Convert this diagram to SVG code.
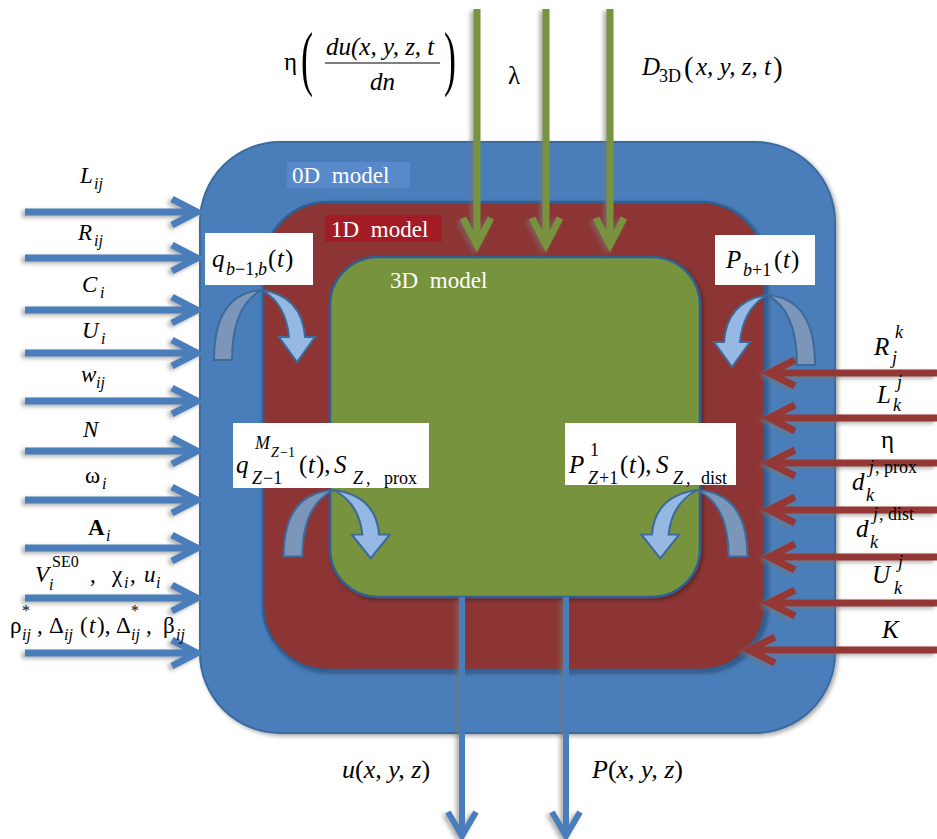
<svg xmlns="http://www.w3.org/2000/svg" xmlns:xlink="http://www.w3.org/1999/xlink" width="937" height="839" viewBox="0 0 937 839" font-family="'Liberation Serif', 'DejaVu Serif', serif">
<style>
text{font-family:'Liberation Serif','DejaVu Serif',serif}
.t{font-size:23px;fill:#000}
.t25{font-size:25px;fill:#000}
.t26{font-size:26px;fill:#000}
.i{font-style:italic}
.s{font-size:16px}
.s18{font-size:18px}
.ss{font-size:14px}
.big{font-size:72px}
.pr{font-size:29px}
.lab{font-size:23px;fill:#fff;word-spacing:6px}
.ba{fill:none;stroke:#4a7ebb;stroke-width:7}
.ra{fill:none;stroke:#953735;stroke-width:7}
.ga{fill:none;stroke:#77933c;stroke-width:7}
.box{fill:#fff}
.dk{fill:#7b96b9;stroke:#3d6a9b;stroke-width:2}
.lt{fill:#95b9e2;stroke:#3d6a9b;stroke-width:2}
</style>
<defs>
<filter id="sh" x="-10%" y="-10%" width="120%" height="120%">
<feDropShadow dx="2" dy="2" stdDeviation="2" flood-color="#000" flood-opacity="0.35"/>
</filter>
<filter id="ash" x="-20%" y="-20%" width="140%" height="140%">
<feDropShadow dx="-3" dy="2" stdDeviation="2" flood-color="#777" flood-opacity="0.6"/>
</filter>
<g id="ca">
<path class="dk" d="M-48,70 Q-48,3 0,0 Q-30,15 -30,70 Z"/>
<path class="lt" d="M0,0 Q40,6 43,47 L53,47 L35,72 L17,47 L27,47 Q24,14 0,0 Z"/>
</g>
</defs>
<rect width="937" height="839" fill="#fff"/>

<g id="model0D">
<rect x="200" y="142" width="635" height="591" rx="80" fill="#4a7ebb" stroke="#3a6aa0" stroke-width="2" filter="url(#sh)"/>
<rect x="287" y="162" width="123" height="26" fill="#5889cb"/>
<text class="lab" x="292" y="183">0D model</text>
</g>
<g id="model1D">
<rect x="263" y="202" width="502" height="468" rx="65" fill="#8d3434" stroke="#2f5f93" stroke-width="2.5" filter="url(#sh)"/>
<rect x="325" y="215" width="117" height="27" fill="#a21b25"/>
<text class="lab" x="331" y="237">1D model</text>
</g>
<g id="model3D">
<rect x="330" y="257" width="370" height="340" rx="48" fill="#77933c" stroke="#2f5f93" stroke-width="2.5" filter="url(#sh)"/>
<text class="lab" x="390" y="288">3D model</text>
</g>

<g id="connectors">
<g filter="url(#ash)">
<path class="ga" d="M477,9 V243 M463,218 L477,245 L491,218"/>
<path class="ga" d="M546,9 V243 M532,218 L546,245 L560,218"/>
<path class="ga" d="M610,9 V243 M596,218 L610,245 L624,218"/>
</g>
<g filter="url(#ash)">
<path class="ba" d="M25,212 H196 M172,199 L197,212 L172,225"/>
<path class="ba" d="M25,258 H196 M172,245 L197,258 L172,271"/>
<path class="ba" d="M25,310 H196 M172,297 L197,310 L172,323"/>
<path class="ba" d="M25,353 H196 M172,340 L197,353 L172,366"/>
<path class="ba" d="M25,401 H196 M172,388 L197,401 L172,414"/>
<path class="ba" d="M25,451 H196 M172,438 L197,451 L172,464"/>
<path class="ba" d="M25,500 H196 M172,487 L197,500 L172,513"/>
<path class="ba" d="M25,548 H196 M172,535 L197,548 L172,561"/>
<path class="ba" d="M25,598 H196 M172,585 L197,598 L172,611"/>
<path class="ba" d="M25,653 H196 M172,640 L197,653 L172,666"/>
</g>
<g filter="url(#ash)">
<path class="ra" d="M937,373 H771 M795,360 L769,373 L795,386"/>
<path class="ra" d="M937,418 H771 M795,405 L769,418 L795,431"/>
<path class="ra" d="M937,463 H771 M795,450 L769,463 L795,476"/>
<path class="ra" d="M937,510 H771 M795,497 L769,510 L795,523"/>
<path class="ra" d="M937,557 H771 M795,544 L769,557 L795,570"/>
<path class="ra" d="M937,603 H771 M795,590 L769,603 L795,616"/>
<path class="ra" d="M937,650 H751 M775,637 L749,650 L775,663"/>
</g>
<g filter="url(#ash)">
<path class="ba" style="stroke-width:6" d="M462,597 V834 M448,812 L462,836 L476,812"/>
<path class="ba" style="stroke-width:6" d="M566,597 V834 M552,812 L566,836 L580,812"/>
</g>
<use xlink:href="#ca" href="#ca" transform="translate(262,290)"/>
<use xlink:href="#ca" href="#ca" transform="translate(767,295) scale(-1,1)"/>
<use xlink:href="#ca" href="#ca" transform="translate(334,490) scale(1.05,0.95)"/>
<use xlink:href="#ca" href="#ca" transform="translate(697,490) scale(-1.05,0.95)"/>
</g>

<g id="box-q">
<rect class="box" x="205" y="233" width="108" height="52"/>
<text class="t25"><tspan class="i" x="212" y="267">q</tspan><tspan class="i s18" x="226" y="275">b</tspan><tspan class="s18" x="235" y="275">−1,</tspan><tspan class="i s18" x="258" y="275">b</tspan><tspan x="268" y="267">(</tspan><tspan class="i" x="277" y="267">t</tspan><tspan x="285" y="267">)</tspan></text>
</g>
<g id="box-P">
<rect class="box" x="715" y="235" width="100" height="50"/>
<text class="t25"><tspan class="i" x="726" y="268">P</tspan><tspan class="i s18" x="743" y="276">b</tspan><tspan class="s18" x="752" y="276">+1</tspan><tspan x="774" y="268">(</tspan><tspan class="i" x="783" y="268">t</tspan><tspan x="791" y="268">)</tspan></text>
</g>
<g id="box-qZ">
<rect class="box" x="233" y="423" width="196" height="65"/>
<text class="t25"><tspan class="i" x="236" y="473">q</tspan><tspan class="i s18" x="255" y="449">M</tspan><tspan class="i ss" x="271" y="457">Z</tspan><tspan class="ss" x="280" y="457">−1</tspan><tspan class="i s18" x="252" y="484">Z</tspan><tspan class="s18" x="263" y="484">−1</tspan><tspan x="299" y="473">(</tspan><tspan class="i" x="308" y="473">t</tspan><tspan x="316" y="473">),</tspan><tspan class="i" x="334" y="473">S</tspan><tspan class="i s18" x="353" y="484">Z</tspan><tspan class="s18" x="366" y="484">,</tspan><tspan class="s18" x="384" y="484">prox</tspan></text>
</g>
<g id="box-PZ">
<rect class="box" x="565" y="423" width="171" height="62"/>
<text class="t25"><tspan class="i" x="569" y="473">P</tspan><tspan class="s18" x="590" y="456">1</tspan><tspan class="i s18" x="588" y="484">Z</tspan><tspan class="s18" x="599" y="484">+1</tspan><tspan x="620" y="473">(</tspan><tspan class="i" x="629" y="473">t</tspan><tspan x="637" y="473">),</tspan><tspan class="i" x="656" y="473">S</tspan><tspan class="i s18" x="673" y="484">Z</tspan><tspan class="s18" x="686" y="484">,</tspan><tspan class="s18" x="701" y="484">dist</tspan></text>
</g>

<g id="labels-left">
<text class="t"><tspan class="i" x="80" y="183">L</tspan><tspan class="i s" x="94" y="189">ij</tspan></text>
<text class="t"><tspan class="i" x="78" y="240">R</tspan><tspan class="i s" x="94" y="246">ij</tspan></text>
<text class="t"><tspan class="i" x="82" y="292">C</tspan><tspan class="i s" x="100" y="298">i</tspan></text>
<text class="t"><tspan class="i" x="82" y="338">U</tspan><tspan class="i s" x="101" y="344">i</tspan></text>
<text class="t"><tspan class="i" x="81" y="382">w</tspan><tspan class="i s" x="96" y="388">ij</tspan></text>
<text class="t i" x="83" y="437">N</text>
<text class="t"><tspan x="85" y="483">ω</tspan><tspan class="i s" x="102" y="489">i</tspan></text>
<text class="t"><tspan x="88" y="535" font-weight="bold">A</tspan><tspan class="i s" x="106" y="541">i</tspan></text>
<text class="t"><tspan class="i" x="35" y="582">V</tspan><tspan class="s" x="52" y="567">SE0</tspan><tspan class="i s" x="49" y="590">i</tspan><tspan x="90" y="582">,</tspan><tspan x="112" y="582">χ</tspan><tspan class="i s" x="124" y="588">i</tspan><tspan x="130" y="582">,</tspan><tspan class="i" x="144" y="582">u</tspan><tspan class="i s" x="156" y="588">i</tspan></text>
<text class="t"><tspan x="10" y="633">ρ</tspan><tspan class="s" x="22" y="616">*</tspan><tspan class="i s" x="22" y="640">ij</tspan><tspan x="37" y="633">,</tspan><tspan x="49" y="633">Δ</tspan><tspan class="i s" x="64" y="640">ij</tspan><tspan x="80" y="633">(</tspan><tspan class="i" x="89" y="633">t</tspan><tspan x="97" y="633">),</tspan><tspan x="116" y="633">Δ</tspan><tspan class="s" x="131" y="616">*</tspan><tspan class="i s" x="131" y="640">ij</tspan><tspan x="146" y="633">,</tspan><tspan x="163" y="633">β</tspan><tspan class="i s" x="176" y="640">ij</tspan></text>
</g>

<g id="labels-right">
<text class="t25"><tspan class="i" x="874" y="355">R</tspan><tspan class="i s18" x="895" y="338">k</tspan><tspan class="i s18" x="892" y="364">j</tspan></text>
<text class="t25"><tspan class="i" x="877" y="403">L</tspan><tspan class="i s18" x="897" y="388">j</tspan><tspan class="i s18" x="893" y="411">k</tspan></text>
<text class="t25" x="881" y="448">η</text>
<text class="t25"><tspan class="i" x="852" y="490">d</tspan><tspan class="i s18" x="869" y="473">j</tspan><tspan class="s18" x="875" y="473">, prox</tspan><tspan class="i s18" x="866" y="501">k</tspan></text>
<text class="t25"><tspan class="i" x="856" y="537">d</tspan><tspan class="i s18" x="873" y="520">j</tspan><tspan class="s18" x="879" y="520">, dist</tspan><tspan class="i s18" x="870" y="548">k</tspan></text>
<text class="t25"><tspan class="i" x="872" y="583">U</tspan><tspan class="i s18" x="898" y="568">j</tspan><tspan class="i s18" x="894" y="594">k</tspan></text>
<text class="t25 i" x="882" y="638">K</text>
</g>

<g id="labels-top">
<text class="t25" x="284" y="70">η</text>
<text class="t big" x="0" y="0" transform="translate(301,82) scale(0.5,1)">(</text>
<text class="t25 i" x="326" y="55">du(x, y, z, t</text>
<line x1="325" y1="63" x2="440" y2="63" stroke="#000" stroke-width="1.2"/>
<text class="t25 i" x="370" y="90">dn</text>
<text class="t big" x="0" y="0" transform="translate(444,82) scale(0.5,1)">)</text>
<text class="t25" x="508" y="84">λ</text>
<text class="t25"><tspan class="i" x="642" y="75">D</tspan><tspan class="s18" x="659" y="82">3D</tspan><tspan class="pr" x="684" y="77">(</tspan><tspan class="i" x="696" y="75">x, y, z, t</tspan><tspan class="pr" dx="2" y="77">)</tspan></text>
</g>

<g id="labels-bottom">
<text class="t26" x="342" y="778"><tspan class="i">u</tspan>(<tspan class="i">x, y, z</tspan>)</text>
<text class="t26" x="592" y="778"><tspan class="i">P</tspan>(<tspan class="i">x, y, z</tspan>)</text>
</g>
</svg>
